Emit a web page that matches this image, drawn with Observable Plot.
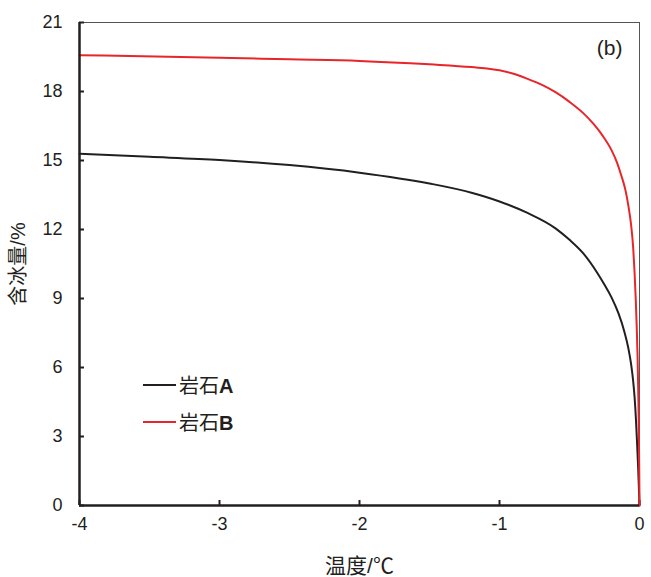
<!DOCTYPE html>
<html><head><meta charset="utf-8">
<script src="https://cdn.jsdelivr.net/npm/d3@7"></script>
<script src="https://cdn.jsdelivr.net/npm/@observablehq/plot@0.6"></script>
<style>
body{margin:0;background:#fff;}
#wrap{position:relative;width:651px;height:577px;font-family:"Liberation Sans",Arial,"Noto Sans CJK SC",sans-serif;}
.legend{position:absolute;left:143px;top:366px;font-size:20px;color:#231f20;}
.row{display:flex;align-items:center;height:37px;}
.sw{width:33px;height:2px;margin-right:3px;}
.lab{font-family:"Noto Sans CJK SC","Liberation Sans",sans-serif;}
.lab b{font-family:"Liberation Sans",Arial,sans-serif;font-weight:bold;}
</style>
</head><body>
<div id="wrap"></div>
<script>
const xTicks = [-4, -3, -2, -1, 0];
const yTicks = [0, 3, 6, 9, 12, 15, 18, 21];
const seriesNames = ["岩石A", "岩石B"];
const seriesColors = ["#231f20", "#e8262a"];

const tempA = [-4, -3.5, -3, -2.5, -2, -1.5, -1.2, -1.0, -0.8, -0.6, -0.5, -0.4, -0.3, -0.25, -0.2, -0.15, -0.11, -0.08, -0.06, -0.045, -0.035, -0.025, -0.018, -0.01, -0.004, 0];
const iceA  = [15.29, 15.16, 15.02, 14.8, 14.47, 14.0, 13.6, 13.22, 12.72, 12.05, 11.55, 10.95, 10.1, 9.6, 9.05, 8.35, 7.6, 6.85, 6.15, 5.4, 4.7, 3.7, 2.8, 1.7, 0.7, 0];

const tempB = [-4, -3, -2.5, -2, -1.5, -1.2, -1.0, -0.9, -0.8, -0.7, -0.6, -0.5, -0.4, -0.33, -0.26, -0.2, -0.16, -0.13, -0.1, -0.08, -0.06, -0.045, -0.035, -0.027, -0.02, -0.014, -0.009, -0.005, -0.002, 0];
const iceB  = [19.58, 19.47, 19.4, 19.33, 19.18, 19.06, 18.92, 18.77, 18.55, 18.3, 17.97, 17.55, 17.05, 16.6, 16.05, 15.45, 14.9, 14.35, 13.7, 13.05, 12.2, 11.2, 10.1, 9.0, 7.8, 6.5, 5.0, 3.4, 1.7, 0];

const dataA = tempA.map((t, i) => ({t, v: iceA[i]}));
const dataB = tempB.map((t, i) => ({t, v: iceB[i]}));
const fmt = d => String(d);

const chart = Plot.plot({
  width: 651, height: 577,
  marginLeft: 79, marginRight: 12, marginTop: 22, marginBottom: 72,
  style: {fontFamily: '"Liberation Sans", Arial, "Noto Sans CJK SC", sans-serif', fontSize: "18px", color: "#231f20", background: "white", overflow: "visible"},
  x: {domain: [-4, 0]},
  y: {domain: [0, 21]},
  marks: [
    Plot.frame({stroke: "#555", strokeWidth: 1}),
    // inward tick marks
    Plot.axisY(yTicks, {anchor: "left", tickSize: 5, dx: 5, strokeWidth: 2, tickFormat: () => "", label: null}),
    Plot.axisX(xTicks, {anchor: "bottom", tickSize: 5, dy: -5, strokeWidth: 2, tickFormat: () => "", label: null}),
    // tick labels and axis titles
    Plot.axisY(yTicks, {anchor: "left", tickSize: 0, tickPadding: 17, tickFormat: fmt, fontSize: 18, label: null}),
    Plot.axisX(xTicks, {anchor: "bottom", tickSize: 0, tickPadding: 12, tickFormat: fmt, fontSize: 18, label: null}),
    Plot.axisY({anchor: "left", ticks: [], tickSize: 0, label: "含冰量/%", labelAnchor: "center", labelOffset: 69, labelArrow: "none", fontSize: 20}),
    Plot.axisX({anchor: "bottom", ticks: [], tickSize: 0, label: "温度/℃", labelAnchor: "center", labelOffset: 67, labelArrow: "none", fontSize: 21}),
    Plot.line(dataA, {x: "t", y: "v", stroke: seriesColors[0], strokeWidth: 2, curve: "monotone-x"}),
    Plot.line(dataB, {x: "t", y: "v", stroke: seriesColors[1], strokeWidth: 2, curve: "monotone-x"}),
    Plot.ruleX([xTicks[0]], {stroke: "#231f20", strokeWidth: 2.5}),
    Plot.ruleY([yTicks[0]], {stroke: "#231f20", strokeWidth: 2.5}),
    Plot.text(["(b)"], {frameAnchor: "top-right", dx: -17, dy: 18, lineAnchor: "top", textAnchor: "end", fontSize: 21, fill: "#231f20"})
  ]
});
const wrap = document.getElementById("wrap");
wrap.appendChild(chart);

const legend = document.createElement("div");
legend.className = "legend";
seriesNames.forEach((name, i) => {
  const row = document.createElement("div");
  row.className = "row";
  const sw = document.createElement("div");
  sw.className = "sw";
  sw.style.background = seriesColors[i];
  const lab = document.createElement("span");
  lab.className = "lab";
  lab.innerHTML = name.slice(0, 2) + "<b>" + name.slice(2) + "</b>";
  row.appendChild(sw); row.appendChild(lab);
  legend.appendChild(row);
});
wrap.appendChild(legend);
</script>
</body></html>
